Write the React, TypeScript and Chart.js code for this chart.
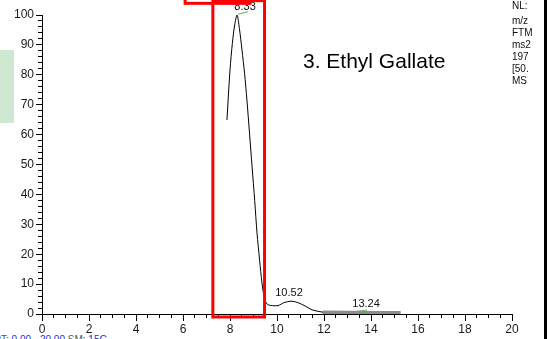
import React, { useEffect, useRef } from "react";
import { Chart, registerables } from "chart.js";

Chart.register(...registerables);

// Chromatogram trace (retention time, relative abundance)
const traceRT = [7.87, 8.0, 8.1, 8.2, 8.3, 8.4, 8.51, 8.62, 8.72, 8.83, 8.94, 9.05, 9.15, 9.26, 9.36, 9.48, 9.57, 9.65, 9.8, 10.04, 10.3, 10.6, 10.89, 11.19, 11.53, 11.96];
const traceAbund = [64.9, 81.6, 90.5, 96.7, 100, 95.5, 88.3, 80.5, 71.6, 60.5, 49.2, 38, 27.1, 18, 10.4, 4.7, 3.4, 3.0, 2.8, 2.8, 3.8, 4.3, 3.8, 2.7, 1.3, 0.6];

// Integrated baseline band (grey)
const bandRT = [11.95, 13.0, 14.0, 15.26];
const bandAbund = [0.6, 0.5, 0.45, 0.45];

// Green apex markers
const apex1RT = [8.35, 8.77];
const apex1Abund = [100.3, 101.1];
const apex2RT = [13.24, 13.82];
const apex2Abund = [0.7, 1.3];

// Peak labels
const peakLabels = ["8.33", "10.52", "13.24"];
const peakLabelRT = [8.64, 10.51, 13.79];
const peakLabelAbund = [100.9, 5.2, 1.5];

// Red highlight boxes (data coordinates: x0, x1, y0, y1)
const boxX0 = [7.27, 6.09];
const boxX1 = [9.47, 8.85];
const boxY0 = [-1.0, 103.9];
const boxY1 = [104.8, 112];

// Axis ticks
const xMajorTicks = [0, 2, 4, 6, 8, 10, 12, 14, 16, 18, 20];
const yMajorTicks = [0, 10, 20, 30, 40, 50, 60, 70, 80, 90, 100];
const xMinorTicks = [0.5, 1, 1.5, 2.5, 3, 3.5, 4.5, 5, 5.5, 6.5, 7, 7.5, 8.5, 9, 9.5, 10.5, 11, 11.5, 12.5, 13, 13.5, 14.5, 15, 15.5, 16.5, 17, 17.5, 18.5, 19, 19.5];
const yMinorTicks = [2, 4, 6, 8, 12, 14, 16, 18, 22, 24, 26, 28, 32, 34, 36, 38, 42, 44, 46, 48, 52, 54, 56, 58, 62, 64, 66, 68, 72, 74, 76, 78, 82, 84, 86, 88, 92, 94, 96, 98];

// Side info text (cut off in the original)
const infoLines = ["NL:", "m/z", "FTM", "ms2", "197", "[50.", "MS"];

const FONT = "'Liberation Sans', Arial, sans-serif";

const overlayPlugin = {
  id: "overlay",
  afterDraw(chart: any) {
    const ctx = chart.ctx;
    const xs = chart.scales.x;
    const ys = chart.scales.y;
    const area = chart.chartArea;
    ctx.save();
    // peak labels
    ctx.fillStyle = "#111";
    ctx.font = `11px ${FONT}`;
    ctx.textAlign = "center";
    ctx.textBaseline = "bottom";
    peakLabels.forEach((t, i) => {
      ctx.fillText(t, xs.getPixelForValue(peakLabelRT[i]), ys.getPixelForValue(peakLabelAbund[i]));
    });
    // minor ticks
    ctx.beginPath();
    ctx.strokeStyle = "#000";
    ctx.lineWidth = 1;
    const b = Math.round(area.bottom);
    const l = Math.round(area.left);
    xMinorTicks.forEach((v) => {
      const px = Math.round(xs.getPixelForValue(v) - 0.5) + 0.5;
      ctx.moveTo(px, b);
      ctx.lineTo(px, b + 4);
    });
    yMinorTicks.forEach((v) => {
      const py = Math.round(ys.getPixelForValue(v) - 0.5) + 0.5;
      ctx.moveTo(l, py);
      ctx.lineTo(l - 4, py);
    });
    ctx.stroke();
    // red boxes
    ctx.strokeStyle = "#ff0000";
    ctx.lineWidth = 3;
    boxX0.forEach((_, i) => {
      const x0 = xs.getPixelForValue(boxX0[i]);
      const x1 = xs.getPixelForValue(boxX1[i]);
      const y0 = ys.getPixelForValue(boxY0[i]);
      const y1 = ys.getPixelForValue(boxY1[i]);
      ctx.strokeRect(x0, y1, x1 - x0, y0 - y1);
    });
    ctx.restore();
  },
};

export default function App() {
  const ref = useRef<HTMLCanvasElement | null>(null);
  useEffect(() => {
    if (!ref.current) return;
    const chart = new Chart(ref.current, {
      type: "scatter",
      data: {
        datasets: [
          {
            data: traceRT.map((x, i) => ({ x, y: traceAbund[i] })),
            showLine: true,
            borderColor: "#000",
            borderWidth: 1,
            pointRadius: 0,
            tension: 0.3,
          },
          {
            data: bandRT.map((x, i) => ({ x, y: bandAbund[i] })),
            showLine: true,
            borderColor: "#8c8c8c",
            borderWidth: 3.4,
            pointRadius: 0,
          },
          {
            data: apex1RT.map((x, i) => ({ x, y: apex1Abund[i] })),
            showLine: true,
            borderColor: "#6cc46c",
            borderWidth: 1.2,
            pointRadius: 0,
            clip: false,
          },
          {
            data: apex2RT.map((x, i) => ({ x, y: apex2Abund[i] })),
            showLine: true,
            borderColor: "#6cc46c",
            borderWidth: 1.2,
            pointRadius: 0,
            clip: false,
          },
        ] as any,
      },
      options: {
        animation: false,
        responsive: false,
        devicePixelRatio: 1,
        layout: { padding: { top: 15, right: 35, left: 0, bottom: 0 } },
        plugins: { legend: { display: false }, tooltip: { enabled: false } },
        scales: {
          x: {
            type: "linear",
            min: 0,
            max: 20,
            afterBuildTicks: (s: any) => {
              s.ticks = xMajorTicks.map((v) => ({ value: v }));
            },
            afterFit: (s: any) => {
              s.height = 25;
            },
            ticks: {
              color: "#1a1a1a",
              font: { size: 12, family: FONT },
              padding: 1,
              maxRotation: 0,
              autoSkip: false,
            },
            grid: { drawOnChartArea: false, tickLength: 7, color: "#000", tickColor: "#000" },
            border: { color: "#000", width: 1 },
          },
          y: {
            type: "linear",
            min: 0,
            max: 100,
            afterBuildTicks: (s: any) => {
              s.ticks = yMajorTicks.map((v) => ({ value: v }));
            },
            afterFit: (s: any) => {
              s.width = 42;
            },
            ticks: {
              color: "#1a1a1a",
              font: { size: 12, family: FONT },
              padding: 2,
              autoSkip: false,
            },
            grid: { drawOnChartArea: false, tickLength: 6, color: "#000", tickColor: "#000" },
            border: { color: "#000", width: 1 },
          },
        },
      },
      plugins: [overlayPlugin],
    });
    return () => chart.destroy();
  }, []);

  return (
    <div
      style={{
        position: "fixed",
        left: 0,
        top: 0,
        width: 547,
        height: 339,
        overflow: "hidden",
        background: "#fff",
        fontFamily: FONT,
      }}
    >
      <div style={{ position: "absolute", left: 0, top: 50, width: 14, height: 73, background: "#cfe8d2" }} />
      <div
        style={{
          position: "absolute",
          left: -6,
          top: 334,
          fontSize: 10,
          whiteSpace: "nowrap",
          color: "#555",
        }}
      >
        RT: <span style={{ color: "#2233cc" }}>0.00</span> - <span style={{ color: "#2233cc" }}>20.00</span> SM:{" "}
        <span style={{ color: "#2233cc" }}>15G</span>
      </div>
      <canvas ref={ref} width={547} height={339} style={{ position: "absolute", left: 0, top: 0, width: 547, height: 339 }} />
      <div
        style={{
          position: "absolute",
          left: 303,
          top: 49,
          fontSize: 21,
          color: "#000",
          whiteSpace: "nowrap",
        }}
      >
        3. Ethyl Gallate
      </div>
      <div
        style={{
          position: "absolute",
          left: 512,
          top: 0,
          width: 20,
          overflow: "hidden",
          fontSize: 10,
          lineHeight: "12px",
          color: "#111",
          whiteSpace: "nowrap",
        }}
      >
        {infoLines.map((t, i) => (
          <div key={i} style={{ marginBottom: i === 0 ? 3 : 0 }}>
            {t}
          </div>
        ))}
      </div>
      <div style={{ position: "absolute", left: 544, top: 0, width: 3, height: 339, background: "#000" }} />
    </div>
  );
}
